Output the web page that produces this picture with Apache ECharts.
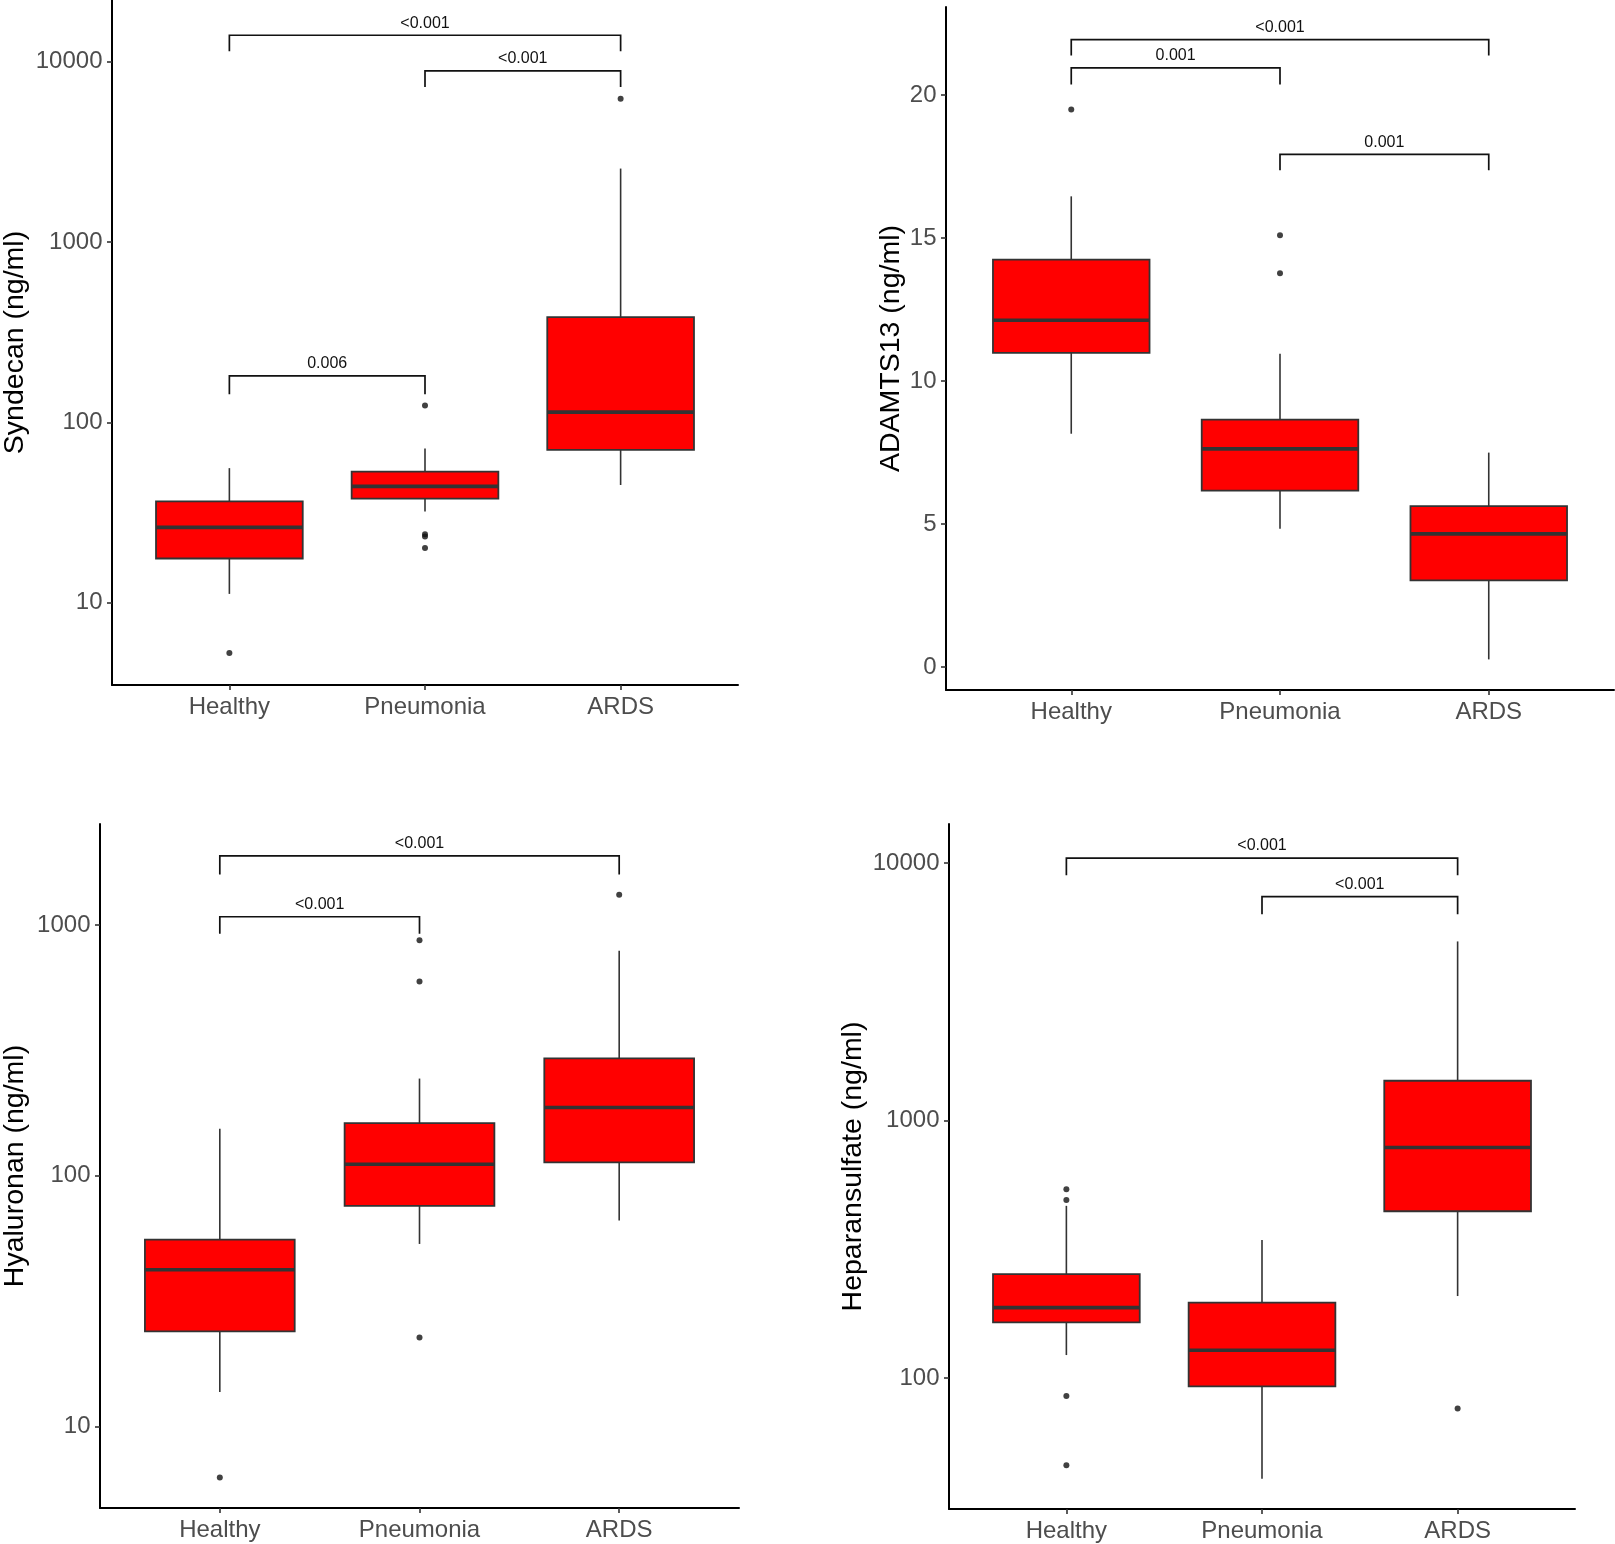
<!DOCTYPE html>
<html>
<head>
<meta charset="utf-8">
<script src="https://cdn.jsdelivr.net/npm/echarts@6/dist/echarts.min.js"></script>
<style>
  html, body { margin: 0; padding: 0; background: #fff; }
  #chart { width: 1615px; height: 1544px; }
</style>
</head>
<body>
<div id="chart"></div>
<script>
const groups = ['Healthy', 'Pneumonia', 'ARDS'];

// box values: [lower whisker, Q1, median, Q3, upper whisker]
const syndecanBox = [
  [11.2, 17.6, 26.2, 36.5, 55.8],
  [32.1, 37.8, 44.2, 53.3, 71.8],
  [45, 70.5, 114, 384, 2557]
];
const syndecanOut = [[0, 5.27], [1, 124], [1, 24], [1, 23.3], [1, 20.1], [2, 6237]];
// p brackets: [from, to, bar, tip, label]
const syndecanP = [[0, 2, 14030, 11430, '<0.001'], [1, 2, 8890, 7240, '<0.001'], [0, 1, 181, 143.5, '0.006']];
const syndecanTicks = [10, 100, 1000, 10000];

const adamtsBox = [
  [8.16, 10.99, 12.13, 14.25, 16.46],
  [4.84, 6.17, 7.63, 8.65, 10.96],
  [0.27, 3.03, 4.66, 5.63, 7.5]
];
const adamtsOut = [[0, 19.5], [1, 15.1], [1, 13.77]];
const adamtsP = [[0, 2, 21.94, 21.38, '<0.001'], [0, 1, 20.95, 20.37, '0.001'], [1, 2, 17.93, 17.37, '0.001']];
const adamtsTicks = [0, 5, 10, 15, 20];

const hyaluronanBox = [
  [13.7, 23.9, 42.1, 55.6, 153.7],
  [53.4, 75.7, 111, 162, 244],
  [66.2, 113, 187, 294, 789]
];
const hyaluronanOut = [[0, 6.25], [1, 870], [1, 595], [1, 22.6], [2, 1321]];
const hyaluronanP = [[0, 2, 1888, 1592, '<0.001'], [0, 1, 1079, 923, '<0.001']];
const hyaluronanTicks = [10, 100, 1000];

const heparanBox = [
  [122.7, 164.4, 187.5, 253, 466],
  [40.6, 92.8, 128, 196, 343],
  [208, 444, 785, 1426, 4958]
];
const heparanOut = [[0, 540], [0, 491], [0, 85.1], [0, 45.8], [2, 76]];
const heparanP = [[0, 2, 10450, 8970, '<0.001'], [1, 2, 7400, 6320, '<0.001']];
const heparanTicks = [100, 1000, 10000];

const FONT = '"Liberation Sans", Arial, sans-serif';
const DARK = '#333333';

var myChart = echarts.init(document.getElementById('chart'), null, { renderer: 'canvas' });

// box with whiskers, no caps (ggplot style)
function boxItem(params, api) {
  var i = api.value(0);
  var lo = api.coord([i, api.value(1)]);
  var q1 = api.coord([i, api.value(2)]);
  var md = api.coord([i, api.value(3)]);
  var q3 = api.coord([i, api.value(4)]);
  var hi = api.coord([i, api.value(5)]);
  var left = api.coord([i - 0.375, api.value(3)])[0];
  var right = api.coord([i + 0.375, api.value(3)])[0];
  var ws = { stroke: DARK, lineWidth: 1.6 };
  return {
    type: 'group',
    children: [
      { type: 'line', shape: { x1: hi[0], y1: hi[1], x2: q3[0], y2: q3[1] }, style: ws },
      { type: 'line', shape: { x1: q1[0], y1: q1[1], x2: lo[0], y2: lo[1] }, style: ws },
      { type: 'rect', shape: { x: left, y: q3[1], width: right - left, height: q1[1] - q3[1] },
        style: { fill: '#ff0000', stroke: DARK, lineWidth: 1.8 } },
      { type: 'line', shape: { x1: left, y1: md[1], x2: right, y2: md[1] },
        style: { stroke: DARK, lineWidth: 3.6 } }
    ]
  };
}

function bracketItem(list) {
  return function (params, api) {
    var b = list[params.dataIndex];
    var p1 = api.coord([b[0], b[3]]);
    var p2 = api.coord([b[0], b[2]]);
    var p3 = api.coord([b[1], b[2]]);
    var p4 = api.coord([b[1], b[3]]);
    return {
      type: 'group',
      children: [
        { type: 'polyline', shape: { points: [p1, p2, p3, p4] },
          style: { stroke: '#111', lineWidth: 1.7, fill: null } },
        { type: 'text', x: (p2[0] + p3[0]) / 2, y: p2[1] - 4,
          style: { text: b[4], fontSize: 16, fontFamily: FONT, fill: '#111',
                   align: 'center', verticalAlign: 'bottom' } }
      ]
    };
  };
}

// one ggplot-like panel
var panels = [
  { box: syndecanBox, out: syndecanOut, p: syndecanP, ticks: syndecanTicks, log: true,
    min: 3.5, max: 22000, title: 'Syndecan (ng/ml)', gap: 82,
    grid: { left: 111, top: 0, width: 627, height: 685 } },
  { box: adamtsBox, out: adamtsOut, p: adamtsP, ticks: adamtsTicks, log: false,
    min: -0.8, max: 23.08, title: 'ADAMTS13 (ng/ml)', gap: 40,
    grid: { left: 946, top: 7, width: 668, height: 683 } },
  { box: hyaluronanBox, out: hyaluronanOut, p: hyaluronanP, ticks: hyaluronanTicks, log: true,
    min: 4.72, max: 2530, title: 'Hyaluronan (ng/ml)', gap: 70,
    grid: { left: 99, top: 824, width: 640, height: 684 } },
  { box: heparanBox, out: heparanOut, p: heparanP, ticks: heparanTicks, log: true,
    min: 30.97, max: 14170, title: 'Heparansulfate (ng/ml)', gap: 81,
    grid: { left: 949, top: 824, width: 626, height: 685 } }
];

var grids = [], xAxes = [], yAxes = [], series = [];
panels.forEach(function (pn, k) {
  grids.push(pn.grid);
  xAxes.push({
    gridIndex: k, type: 'value', min: -0.6, max: 2.6,
    axisLine: { show: true, onZero: false, lineStyle: { color: '#000', width: 2 } },
    axisTick: { show: true, customValues: [0, 1, 2], length: 5, lineStyle: { color: DARK, width: 1.6 } },
    axisLabel: { customValues: [0, 1, 2], formatter: function (v) { return groups[Math.round(v)]; },
                 fontSize: 24, fontFamily: FONT, color: '#4d4d4d', margin: 10 },
    splitLine: { show: false }
  });
  yAxes.push({
    gridIndex: k, type: pn.log ? 'log' : 'value', logBase: 10, min: pn.min, max: pn.max,
    name: pn.title, nameLocation: 'middle', nameRotate: 90, nameGap: pn.gap,
    nameTextStyle: { fontSize: 28.5, fontFamily: FONT, color: '#000' },
    axisLine: { show: true, onZero: false, lineStyle: { color: '#000', width: 2 } },
    axisTick: { show: true, customValues: pn.ticks, length: 5, lineStyle: { color: DARK, width: 1.6 } },
    axisLabel: { customValues: pn.ticks, formatter: function (v) { return String(Math.round(v)); },
                 fontSize: 24, fontFamily: FONT, color: '#4d4d4d', margin: 9.5, padding: [5, 0, 0, 0] },
    splitLine: { show: false },
    minorTick: { show: false }
  });
  series.push({
    type: 'custom', xAxisIndex: k, yAxisIndex: k,
    renderItem: boxItem,
    encode: { x: 0, y: [1, 2, 3, 4, 5] },
    data: pn.box.map(function (b, i) { return [i].concat(b); }),
    clip: false
  });
  series.push({
    type: 'scatter', xAxisIndex: k, yAxisIndex: k,
    symbol: 'circle', symbolSize: 6,
    itemStyle: { color: '#111' },
    data: pn.out
  });
  series.push({
    type: 'custom', xAxisIndex: k, yAxisIndex: k,
    renderItem: bracketItem(pn.p),
    encode: { x: [0, 1], y: [2, 3] },
    data: pn.p.map(function (b) { return [b[0], b[1], b[2], b[3]]; }),
    clip: false
  });
});

var option = {
  animation: false,
  backgroundColor: '#fff',
  grid: grids,
  xAxis: xAxes,
  yAxis: yAxes,
  series: series
};
myChart.setOption(option);
</script>
</body>
</html>
